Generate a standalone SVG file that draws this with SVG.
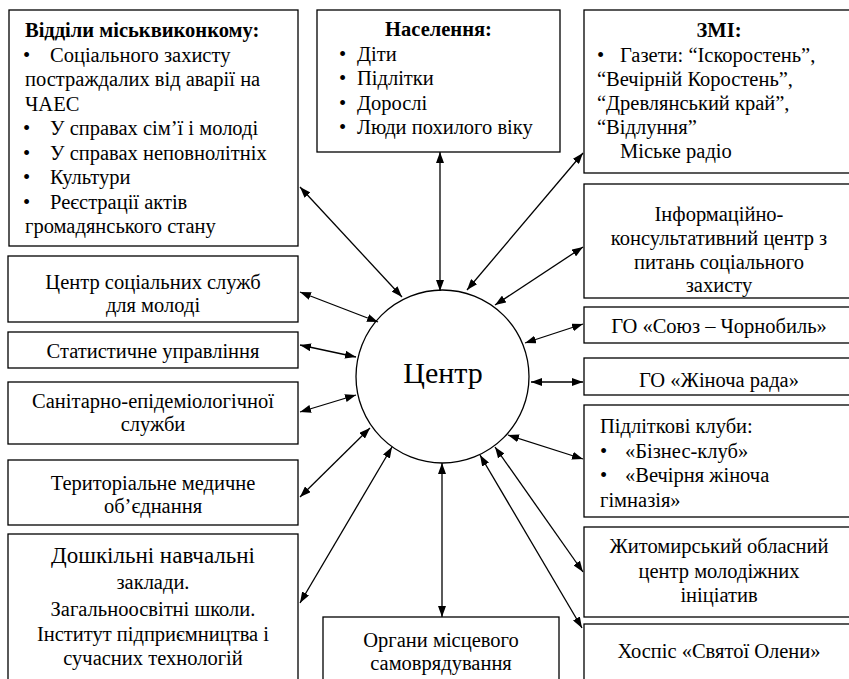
<svg xmlns="http://www.w3.org/2000/svg" width="849" height="679" viewBox="0 0 849 679">
<defs>
<marker id="ah" viewBox="0 0 11 8" refX="11" refY="4" markerWidth="11" markerHeight="8" markerUnits="userSpaceOnUse" orient="auto-start-reverse">
<path d="M0,0 L11,4 L0,8 z" fill="#000"/>
</marker>
<style>
.box{fill:#fff;stroke:#000;stroke-width:1.3}
.c{text-anchor:middle}
.con line{stroke:#000;stroke-width:1.3;marker-start:url(#ah);marker-end:url(#ah)}
</style>
</defs>
<rect width="849" height="679" fill="#fff"/>
<g font-family="Liberation Serif, serif" font-size="20.5" fill="#000">

<g id="n-viddily">
<rect class="box" x="9" y="10" width="289" height="236"/>
<text font-weight="bold" x="25" y="37">Відділи міськвиконкому:</text>
<text x="23" y="61.5">•</text><text x="50" y="61.5">Соціального захисту</text>
<text x="25" y="86">постраждалих від аварії на</text>
<text x="25" y="110.5">ЧАЕС</text>
<text x="23" y="135">•</text><text x="50" y="135">У справах сім’ї і молоді</text>
<text x="23" y="159.5">•</text><text x="50" y="159.5">У справах неповнолітніх</text>
<text x="23" y="184">•</text><text x="50" y="184">Культури</text>
<text x="23" y="208.5">•</text><text x="50" y="208.5">Реєстрації актів</text>
<text x="25" y="233">громадянського стану</text>
</g>

<g id="n-naselennia">
<rect class="box" x="317" y="10" width="243" height="142"/>
<text font-weight="bold" class="c" x="438.5" y="36">Населення:</text>
<text x="339" y="60.5">•</text><text x="357" y="60.5">Діти</text>
<text x="339" y="85">•</text><text x="357" y="85">Підлітки</text>
<text x="339" y="109.5">•</text><text x="357" y="109.5">Дорослі</text>
<text x="339" y="134">•</text><text x="357" y="134">Люди похилого віку</text>
</g>

<g id="n-zmi">
<rect class="box" x="584" y="10" width="272" height="163"/>
<text font-weight="bold" class="c" x="719" y="37">ЗМІ:</text>
<text x="597" y="62">•</text><text x="620" y="62">Газети: “Іскоростень”,</text>
<text x="597" y="86">“Вечірній Коростень”,</text>
<text x="597" y="110">“Древлянський край”,</text>
<text x="597" y="134">“Відлуння”</text>
<text x="620" y="158">Міське радіо</text>
</g>

<g id="n-inform">
<rect class="box" x="584" y="184" width="272" height="114"/>
<text class="c" x="719" y="221">Інформаційно-</text>
<text class="c" x="719" y="245">консультативний центр з</text>
<text class="c" x="719" y="269">питань соціального</text>
<text class="c" x="719" y="292">захисту</text>
</g>

<g id="n-soiuz">
<rect class="box" x="584" y="307" width="272" height="36"/>
<text class="c" x="719" y="333">ГО «Союз – Чорнобиль»</text>
</g>

<g id="n-zhinocha">
<rect class="box" x="584" y="358" width="272" height="37"/>
<text class="c" x="719" y="387">ГО «Жіноча рада»</text>
</g>

<g id="n-kluby">
<rect class="box" x="584" y="405" width="272" height="112"/>
<text x="600" y="433">Підліткові клуби:</text>
<text x="600" y="458">•</text><text x="625" y="458">«Бізнес-клуб»</text>
<text x="600" y="482">•</text><text x="625" y="482">«Вечірня жіноча</text>
<text x="600" y="507">гімназія»</text>
</g>

<g id="n-zhytomyr">
<rect class="box" x="584" y="527" width="272" height="90"/>
<text class="c" x="719" y="553">Житомирський обласний</text>
<text class="c" x="719" y="578">центр молодіжних</text>
<text class="c" x="719" y="602">ініціатив</text>
</g>

<g id="n-hospis">
<rect class="box" x="584" y="624" width="272" height="70"/>
<text class="c" x="719" y="658">Хоспіс «Святої Олени»</text>
</g>

<g id="n-organy">
<rect class="box" x="323" y="617" width="236" height="80"/>
<text class="c" x="441" y="647">Органи місцевого</text>
<text class="c" x="441" y="670">самоврядування</text>
</g>

<g id="n-tssm">
<rect class="box" x="8" y="256" width="290" height="66"/>
<text class="c" x="153" y="289">Центр соціальних служб</text>
<text class="c" x="153" y="312">для молоді</text>
</g>

<g id="n-stat">
<rect class="box" x="8" y="332" width="290" height="36"/>
<text class="c" x="153" y="358">Статистичне управління</text>
</g>

<g id="n-san">
<rect class="box" x="8" y="382" width="290" height="62"/>
<text class="c" x="153" y="408">Санітарно-епідеміологічної</text>
<text class="c" x="153" y="431">служби</text>
</g>

<g id="n-ter">
<rect class="box" x="8" y="460" width="290" height="65"/>
<text class="c" x="153" y="490">Територіальне медичне</text>
<text class="c" x="153" y="513">об’єднання</text>
</g>

<g id="n-osvita">
<rect class="box" x="8" y="534" width="290" height="160"/>
<text class="c" x="153" y="563" font-size="23">Дошкільні навчальні</text>
<text class="c" x="153" y="589">заклади.</text>
<text class="c" x="153" y="616">Загальноосвітні школи.</text>
<text class="c" x="153" y="641">Інститут підприємництва і</text>
<text class="c" x="153" y="665">сучасних технологій</text>
</g>

<g id="n-tsentr">
<circle cx="442.5" cy="376.5" r="86.5" fill="#fff" stroke="#000" stroke-width="1.3"/>
<text class="c" x="443" y="383" font-size="30">Центр</text>
</g>

</g>

<g id="connectors" class="con">
<line x1="300" y1="187" x2="402" y2="297"/>
<line x1="440" y1="152" x2="440" y2="291"/>
<line x1="583" y1="153" x2="467" y2="290"/>
<line x1="583" y1="247" x2="495" y2="305"/>
<line x1="583" y1="324" x2="525" y2="343"/>
<line x1="583" y1="382" x2="531" y2="382"/>
<line x1="583" y1="459" x2="508" y2="435"/>
<line x1="583" y1="572" x2="495" y2="447"/>
<line x1="582" y1="628" x2="480" y2="455"/>
<line x1="442" y1="617" x2="442" y2="463"/>
<line x1="300" y1="603" x2="392" y2="447"/>
<line x1="300" y1="497" x2="370" y2="428"/>
<line x1="300" y1="412" x2="356" y2="395"/>
<line x1="300" y1="345" x2="356" y2="357"/>
<line x1="300" y1="292" x2="378" y2="322"/>
</g>
</svg>
